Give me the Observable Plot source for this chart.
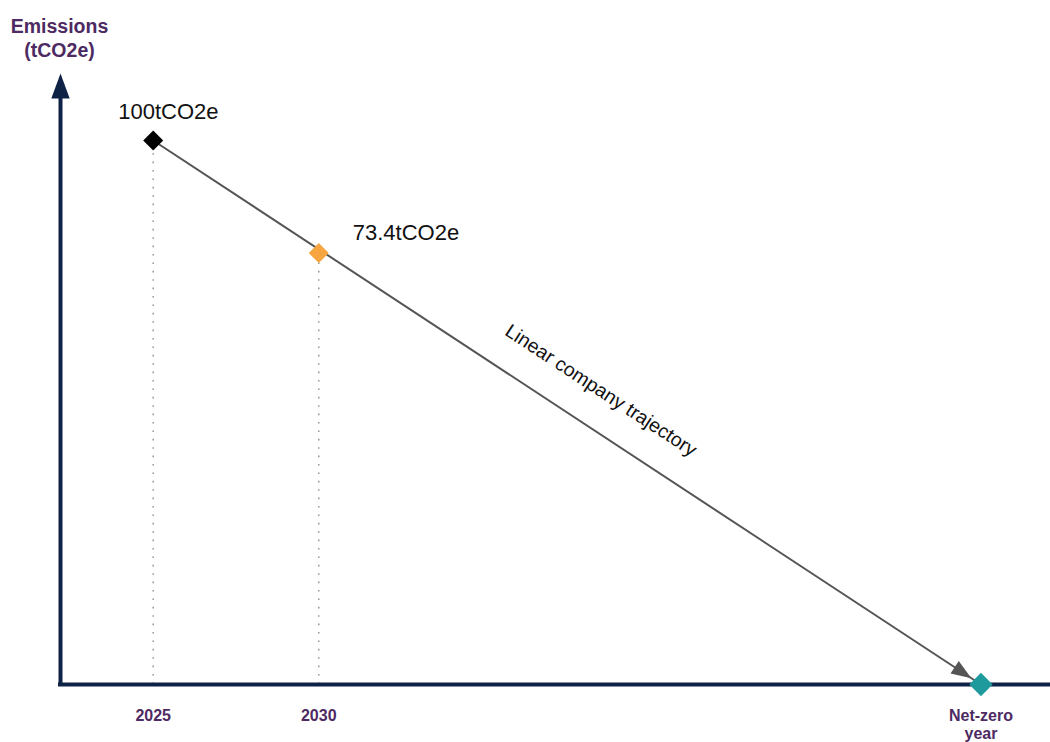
<!DOCTYPE html>
<html>
<head>
<meta charset="utf-8">
<script src="https://cdn.jsdelivr.net/npm/d3@7"></script>
<script src="https://cdn.jsdelivr.net/npm/@observablehq/plot@0.6"></script>
<style>
  html, body { margin: 0; padding: 0; background: #fff; }
  #chart svg { display: block; }
</style>
</head>
<body>
<div id="chart"></div>
<script>
// Milestones of the linear reduction pathway
const years = [2025, 2030, 2050];
const tickLabels = ["2025", "2030", "Net-zero\nyear"];
const emissions = [100, 73.4, 0];
const stages = ["base", "target", "netzero"];
const valueLabels = ["100tCO2e", "73.4tCO2e", ""];
const trajectoryLabel = "Linear company trajectory";
const yTitle = "Emissions\n(tCO2e)";

const points = years.map((year, i) => ({
  year, value: emissions[i], stage: stages[i], tick: tickLabels[i], label: valueLabels[i]
}));
const trajectory = [points[0], points[2]];

const navy = "#0e2246";
const purple = "#4d2a62";
const lineGrey = "#555555";
const font = "Arial, 'Liberation Sans', sans-serif";
const slope = 33.2; // on-screen angle of the trajectory, degrees

// Filled arrowheads drawn with their tip at the origin
const headRight = { draw(ctx) { ctx.moveTo(0, 0); ctx.lineTo(-20, -7.5); ctx.lineTo(-20, 7.5); ctx.closePath(); } };
const headUp = { draw(ctx) { ctx.moveTo(0, 0); ctx.lineTo(9.2, 25); ctx.lineTo(-9.2, 25); ctx.closePath(); } };

const xStart = 2022.2, xEnd = 2052.1;

const chart = Plot.plot({
  width: 1050,
  height: 742,
  marginLeft: 60,
  marginRight: 0,
  marginTop: 73,
  marginBottom: 58,
  style: { fontFamily: font, background: "#fff", overflow: "visible" },
  // schematic axes: a power scale keeps every milestone on the straight path
  x: { domain: [xStart, xEnd], axis: null },
  y: { type: "pow", exponent: 0.75, domain: [0, 100], range: [684, 140], axis: null },
  color: { domain: stages, range: ["#000000", "#f6a540", "#1e9a9c"] },
  marks: [
    // dotted drop lines to the time axis
    Plot.ruleX(points.filter(d => d.value > 0), {
      x: "year", y1: 0, y2: "value", stroke: "#9b9b9b", strokeWidth: 1.6,
      strokeDasharray: "1.6,6.8", insetBottom: 7
    }),
    // trajectory and its arrowhead
    Plot.line(trajectory, { x: "year", y: "value", stroke: lineGrey, strokeWidth: 2 }),
    Plot.dot(trajectory.slice(1), {
      x: "year", y: "value", symbol: headRight, rotate: slope, r: 10,
      fill: lineGrey, stroke: "none", dx: -9.6, dy: -6.3
    }),
    // axes
    Plot.ruleY([0], { stroke: navy, strokeWidth: 3.8, insetLeft: -2 }),
    Plot.ruleX([xStart], { stroke: navy, strokeWidth: 4, insetTop: 20, insetBottom: -2 }),
    Plot.dot([0], { frameAnchor: "top-left", symbol: headUp, r: 10, fill: navy, stroke: "none" }),
    // milestone markers
    Plot.dot(points.slice(0, 2), { x: "year", y: "value", symbol: "diamond2", r: 9, fill: "stage", stroke: "none" }),
    Plot.dot(points.slice(2), { x: "year", y: "value", symbol: "diamond2", r: 10.5, fill: "stage", stroke: "none" }),
    // value labels
    Plot.text(points.slice(0, 1), {
      x: "year", y: "value", text: "label", textAnchor: "start", dx: -35, dy: -28.5,
      fontSize: 22, fill: "#111"
    }),
    Plot.text(points.slice(1, 2), {
      x: "year", y: "value", text: "label", textAnchor: "start", dx: 34, dy: -20.5,
      fontSize: 22, fill: "#111"
    }),
    // trajectory label
    Plot.text([trajectoryLabel], {
      text: d => d, frameAnchor: "middle", dx: 45.5, dy: 11.5, rotate: slope,
      fontSize: 19.5, fill: "#111"
    }),
    // time-axis labels
    Plot.text(points, {
      x: "year", text: "tick", frameAnchor: "bottom", lineAnchor: "top", dy: 24,
      fontSize: 16, fontWeight: "bold", fill: purple, lineHeight: 1.1
    }),
    // y-axis title
    Plot.text([yTitle], {
      text: d => d, frameAnchor: "top-left", lineAnchor: "top", textAnchor: "middle",
      dx: -1, dy: -58, fontSize: 19.5, fontWeight: "bold", fill: purple, lineHeight: 1.25
    })
  ]
});

document.getElementById("chart").append(chart);
</script>
</body>
</html>
